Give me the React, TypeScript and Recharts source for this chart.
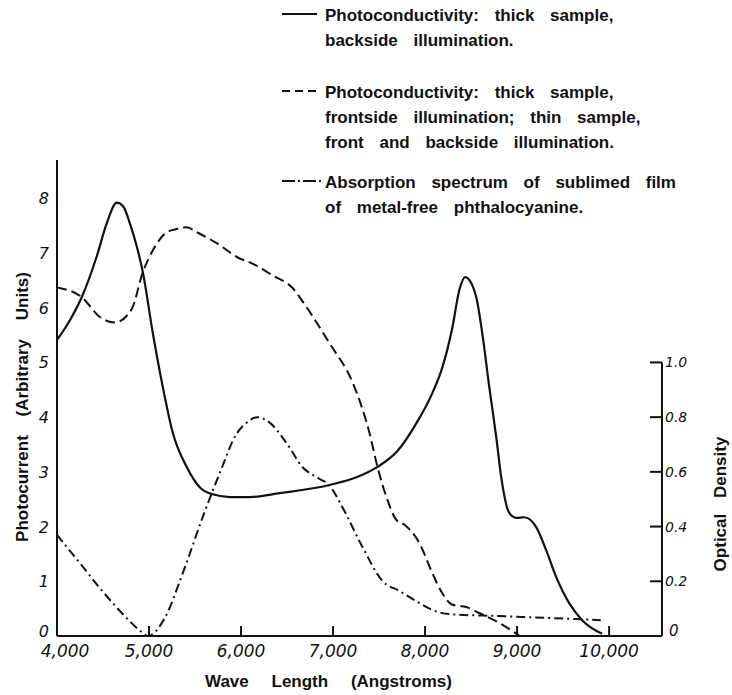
import { LineChart, Line, XAxis, YAxis, ReferenceLine } from 'recharts'

// wavelength (Angstroms) and photocurrent, thick sample, backside illumination
const backWl = [
  4000, 4150, 4271, 4434, 4542, 4650, 4720, 4800, 4870, 4933, 5042, 5150, 5259, 5410, 5551, 5693,
  5877, 6094, 6419, 6962, 7255, 7483, 7700, 7906, 8079, 8188, 8297, 8372, 8437, 8502, 8557, 8622,
  8698, 8774, 8828, 8915, 8991, 9078, 9208, 9316, 9425, 9566, 9707, 9924,
]
const backPc = [
  5.41, 5.8, 6.2, 6.95, 7.55, 7.92, 7.85, 7.5, 7.1, 6.65, 5.53, 4.55, 3.71, 3.09, 2.72, 2.59,
  2.54, 2.54, 2.61, 2.76, 2.9, 3.09, 3.38, 3.89, 4.44, 4.91, 5.64, 6.32, 6.56, 6.45, 6.19, 5.53,
  4.55, 3.63, 2.9, 2.25, 2.16, 2.17, 1.99, 1.57, 1.08, 0.6, 0.29, 0.04,
]

// thick sample frontside; thin sample front and backside
const frontWl = [
  4000, 4271, 4466, 4629, 4810, 4933, 5042, 5193, 5280, 5410, 5519, 5736, 5985, 6094, 6343, 6560,
  6712, 6962, 7211, 7287, 7396, 7483, 7580, 7689, 7780, 7938, 8079, 8188, 8297, 8448, 8589, 8806,
  9030,
]
const frontPc = [
  6.37, 6.19, 5.83, 5.73, 5.97, 6.65, 7.05, 7.38, 7.43, 7.47, 7.38, 7.18, 6.9, 6.83, 6.59, 6.36,
  6.01, 5.35, 4.64, 4.31, 3.71, 3.09, 2.54, 2.12, 2.03, 1.7, 1.15, 0.78, 0.57, 0.53, 0.42, 0.24,
  0,
]

// absorption spectrum, optical density (right axis)
const absWl = [
  4000, 4108, 4300, 4466, 4620, 4759, 4900, 4990, 5170, 5367, 5584, 5768, 5953, 6061, 6181, 6311,
  6495, 6669, 6821, 6962, 7103, 7320, 7540, 7720, 7900, 8080, 8260, 8800, 9350, 9910,
]
const absOd = [
  0.37, 0.325, 0.245, 0.175, 0.115, 0.065, 0.02, 0, 0.065, 0.23, 0.435, 0.595, 0.74, 0.78, 0.8, 0.78,
  0.705, 0.617, 0.58, 0.55, 0.47, 0.325, 0.2, 0.165, 0.128, 0.095, 0.08, 0.073, 0.066, 0.058,
]

const xTicks = [4000, 5000, 6000, 7000, 8000, 9000, 10000]
const leftTicks = [0, 1, 2, 3, 4, 5, 6, 7, 8]
const rightTicks = [0, 0.2, 0.4, 0.6, 0.8, 1.0]

const legendGroups = [
  { dash: undefined, lines: ['Photoconductivity: thick sample,', 'backside illumination.'] },
  {
    dash: '8 5',
    lines: [
      'Photoconductivity: thick sample,',
      'frontside illumination; thin sample,',
      'front and backside illumination.',
    ],
  },
  { dash: '13 3 2 3', lines: ['Absorption spectrum of sublimed film', 'of metal-free phthalocyanine.'] },
]

const X_MIN = 4000
const X_MAX = 10575
const INK = '#111'
const DIGITS = '"DejaVu Sans", sans-serif'
const LETTERS = '"Liberation Sans", Arial, sans-serif'

const backData = backWl.map((wl, i) => ({ wl, v: backPc[i] }))
const frontData = frontWl.map((wl, i) => ({ wl, v: frontPc[i] }))
const absData = absWl.map((wl, i) => ({ wl, v: absOd[i] }))

function BottomTick({ x, y, payload }: any) {
  const v = payload.value
  return (
    <g>
      {v > X_MIN && <line x1={x} x2={x} y1={y} y2={y - 10} stroke={INK} strokeWidth={2} />}
      <text
        x={v === X_MIN ? x + 8 : x}
        y={y + 21}
        textAnchor="middle"
        fontFamily={DIGITS}
        fontStyle="italic"
        fontSize={17}
        fill={INK}
      >
        {v.toLocaleString('en-US')}
      </text>
    </g>
  )
}

function LeftTick({ x, y, payload }: any) {
  return (
    <text
      x={x - 8}
      y={payload.value === 0 ? y - 5 : y}
      dy={6}
      textAnchor="end"
      fontFamily={DIGITS}
      fontStyle="italic"
      fontSize={16}
      fill={INK}
    >
      {payload.value}
    </text>
  )
}

function RightTick({ x, y, payload }: any) {
  const v = payload.value
  return (
    <g>
      {v > 0 && <line x1={x - 12} x2={x} y1={y} y2={y} stroke={INK} strokeWidth={2} />}
      <text
        x={v === 0 ? x + 7 : x + 3}
        y={v === 0 ? y - 5 : y}
        dy={5}
        fontFamily={DIGITS}
        fontStyle="italic"
        fontSize={v === 0 ? 15 : 14}
        fill={INK}
      >
        {v === 0 ? '0' : v.toFixed(1)}
      </text>
    </g>
  )
}

const titleStyle = { fontFamily: LETTERS, fontWeight: 700, fontSize: 17, fill: INK }

function Legend() {
  const starts = [21, 98, 188]
  return (
    <svg width={732} height={230} style={{ position: 'absolute', left: 0, top: 0, pointerEvents: 'none' }}>
      {legendGroups.map((g, gi) => (
        <g key={gi}>
          <line
            x1={282}
            x2={g.dash === '13 3 2 3' ? 323 : 317}
            y1={starts[gi] - 7}
            y2={starts[gi] - 7}
            stroke={INK}
            strokeWidth={2}
            strokeDasharray={g.dash}
          />
          {g.lines.map((t, li) => (
            <text key={li} x={325} y={starts[gi] + li * 25} style={{ ...titleStyle, wordSpacing: '11px' }}>
              {t}
            </text>
          ))}
        </g>
      ))}
    </svg>
  )
}

export default function App() {
  return (
    <div style={{ position: 'absolute', left: 0, top: 0, width: 732, height: 695, background: '#fff' }}>
      <LineChart width={732} height={695} margin={{ top: 160, right: 10, bottom: 19, left: 17 }}>
        <XAxis
          type="number"
          dataKey="wl"
          domain={[X_MIN, X_MAX]}
          ticks={xTicks}
          interval={0}
          height={40}
          allowDataOverflow
          tickLine={false}
          tickSize={0}
          tickMargin={0}
          tick={(p: any) => <BottomTick {...p} />}
          axisLine={{ stroke: INK, strokeWidth: 2 }}
          label={() => (
            <text x={205} y={687} style={{ ...titleStyle, wordSpacing: '18px' }}>
              Wave Length (Angstroms)
            </text>
          )}
        />
        <YAxis
          yAxisId="left"
          domain={[0, 8.7]}
          ticks={leftTicks}
          interval={0}
          width={40}
          allowDataOverflow
          tickLine={false}
          tickSize={0}
          tickMargin={0}
          tick={(p: any) => <LeftTick {...p} />}
          axisLine={{ stroke: INK, strokeWidth: 2 }}
          label={() => (
            <text
              x={22}
              y={407}
              textAnchor="middle"
              dominantBaseline="central"
              transform="rotate(-90 22 407)"
              style={{ ...titleStyle, wordSpacing: '14px' }}
            >
              Photocurrent (Arbitrary Units)
            </text>
          )}
        />
        <YAxis
          yAxisId="right"
          orientation="right"
          domain={[0, 1.74]}
          ticks={rightTicks}
          interval={0}
          width={60}
          allowDataOverflow
          tickLine={false}
          tickSize={0}
          tickMargin={0}
          axisLine={false}
          tick={(p: any) => <RightTick {...p} />}
          label={() => (
            <text
              x={720}
              y={504}
              textAnchor="middle"
              dominantBaseline="central"
              transform="rotate(-90 720 504)"
              style={{ ...titleStyle, wordSpacing: '11px' }}
            >
              Optical Density
            </text>
          )}
        />
        <ReferenceLine
          yAxisId="right"
          segment={[
            { x: X_MAX, y: 0 },
            { x: X_MAX, y: 1 },
          ]}
          stroke={INK}
          strokeWidth={2}
          ifOverflow="visible"
        />
        <Line
          yAxisId="left"
          data={backData}
          dataKey="v"
          type="monotone"
          stroke={INK}
          strokeWidth={2.2}
          dot={false}
          activeDot={false}
          isAnimationActive={false}
        />
        <Line
          yAxisId="left"
          data={frontData}
          dataKey="v"
          type="monotone"
          stroke={INK}
          strokeWidth={2}
          strokeDasharray="10 5"
          dot={false}
          activeDot={false}
          isAnimationActive={false}
        />
        <Line
          yAxisId="right"
          data={absData}
          dataKey="v"
          type="monotone"
          stroke={INK}
          strokeWidth={2}
          strokeDasharray="9 4 2 4"
          dot={false}
          activeDot={false}
          isAnimationActive={false}
        />
      </LineChart>
      <Legend />
    </div>
  )
}
